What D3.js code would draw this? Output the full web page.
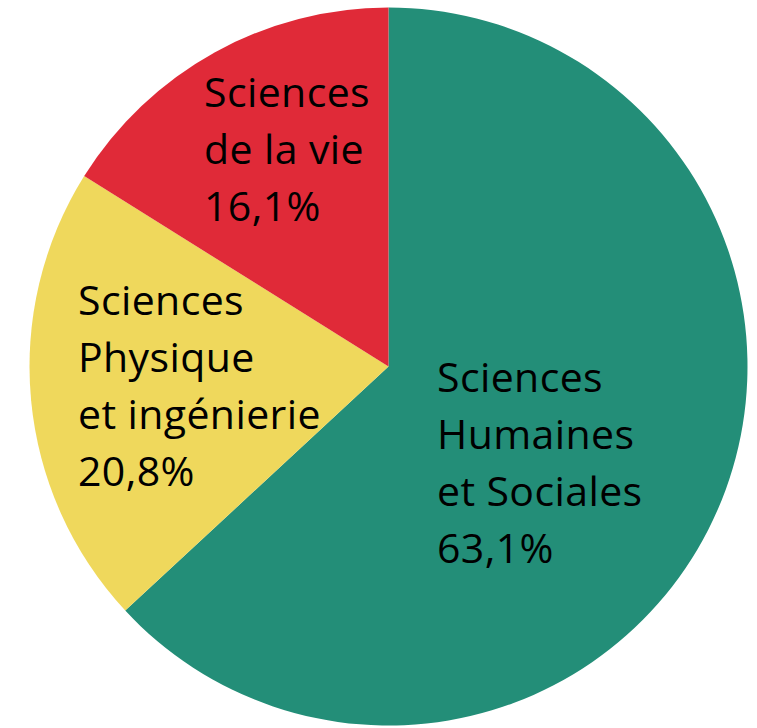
<!DOCTYPE html>
<meta charset="utf-8">
<title>Répartition par domaine</title>
<style>
body { margin: 0; background: #fff; }
svg text { font-family: "Open Sans", "Liberation Sans", sans-serif; font-size: 41px; letter-spacing: 0.4px; fill: #000; }
</style>
<body>
<svg width="757" height="728"></svg>
<script src="https://d3js.org/d3.v7.min.js"></script>
<script>
// domains, clockwise from 12 o'clock
var domains = ["Sciences Humaines et Sociales", "Sciences Physique et ingénierie", "Sciences de la vie"];
var shares = [63.1, 20.8, 16.1];
var labelLines = [
  ["Sciences", "Humaines", "et Sociales", "63,1%"],
  ["Sciences", "Physique", "et ingénierie", "20,8%"],
  ["Sciences", "de la vie", "16,1%"]
];
var colors = ["#238E78", "#EFD85C", "#E02A38"];

// where each label block starts (first baseline), in px
var labelAt = [[437, 392], [78, 315], [204, 107]];
var lineH = 57;

var svg = d3.select("svg"),
    cx = 388.5, cy = 366.5, r = 359;

var g = svg.append("g").attr("transform", "translate(" + cx + "," + cy + ")");

var data = domains.map(function(d, i) { return {name: d, value: shares[i], i: i}; });

var pie = d3.pie().sort(null).value(function(d) { return d.value; });
var arc = d3.arc().innerRadius(0).outerRadius(r);

g.selectAll(".slice")
  .data(pie(data))
  .enter().append("path")
    .attr("class", "slice")
    .attr("d", arc)
    .attr("fill", function(d) { return colors[d.data.i]; });

var labels = svg.selectAll(".lbl")
  .data(data)
  .enter().append("text")
    .attr("class", "lbl")
    .attr("x", function(d) { return labelAt[d.i][0]; })
    .attr("y", function(d) { return labelAt[d.i][1]; });

labels.selectAll("tspan")
  .data(function(d) { return labelLines[d.i].map(function(t) { return {t: t, x: labelAt[d.i][0]}; }); })
  .enter().append("tspan")
    .attr("x", function(d) { return d.x; })
    .attr("dy", function(d, j) { return j ? lineH : 0; })
    .text(function(d) { return d.t; });
</script>
</body>
